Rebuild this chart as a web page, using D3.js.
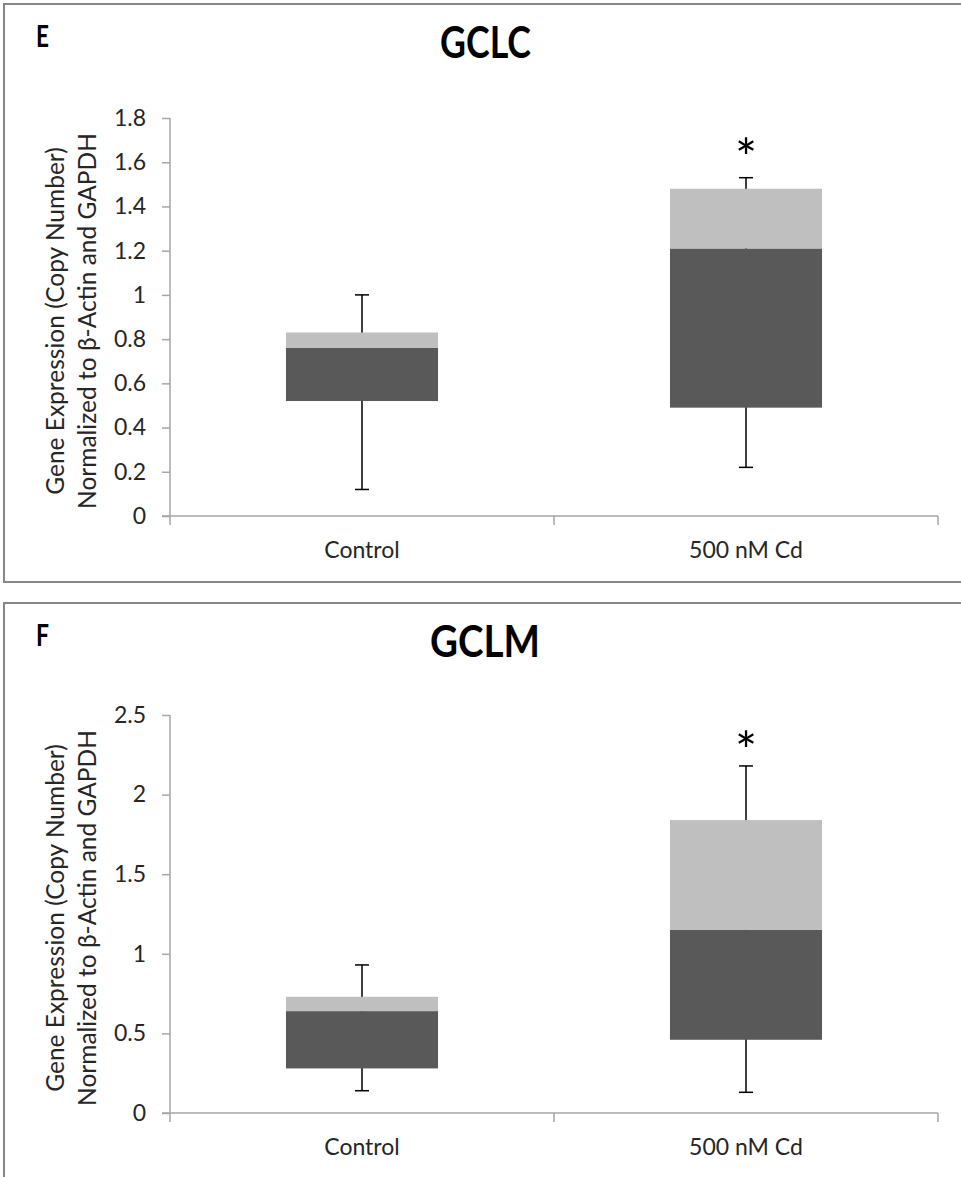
<!DOCTYPE html>
<html>
<head>
<meta charset="utf-8">
<script src="https://cdn.jsdelivr.net/npm/d3@7"></script>
<style>
  body { margin: 0; background: #fff; }
  text { font-family: Lato, "Open Sans", sans-serif; fill: #262626; }
</style>
</head>
<body>
<svg id="chart" width="961" height="1177"></svg>
<script>
// categories
const groups = ['Control', '500 nM Cd'];

// GCLC (panel E)
const gclcMin    = [0.12, 0.22];
const gclcQ1     = [0.52, 0.49];
const gclcMedian = [0.76, 1.21];
const gclcQ3     = [0.83, 1.48];
const gclcMax    = [1.00, 1.53];
const gclcTicks  = [0, 0.2, 0.4, 0.6, 0.8, 1, 1.2, 1.4, 1.6, 1.8];

// GCLM (panel F)
const gclmMin    = [0.14, 0.13];
const gclmQ1     = [0.28, 0.46];
const gclmMedian = [0.64, 1.15];
const gclmQ3     = [0.73, 1.84];
const gclmMax    = [0.93, 2.18];
const gclmTicks  = [0, 0.5, 1, 1.5, 2, 2.5];

const signif = [false, true];

const svg = d3.select('#chart');

const drawPanel = opts => {
    const g = svg.append('g');

    // frame
    g.append('rect')
        .attr('x', 4).attr('y', opts.top)
        .attr('width', 980).attr('height', opts.height)
        .attr('fill', 'none')
        .attr('stroke', '#878787')
        .attr('stroke-width', 2);

    g.append('text')
        .attr('x', 36).attr('y', opts.top + 43)
        .attr('font-size', 30).attr('font-weight', 700)
        .attr('textLength', 13).attr('lengthAdjust', 'spacingAndGlyphs')
        .style('fill', '#000')
        .text(opts.letter);

    g.append('text')
        .attr('x', opts.titleX).attr('y', opts.top + 54)
        .attr('font-size', 44).attr('font-weight', 700)
        .attr('textLength', opts.titleW).attr('lengthAdjust', 'spacingAndGlyphs')
        .style('fill', '#000')
        .text(opts.title);

    const y = d3.scaleLinear()
            .domain([0, d3.max(opts.ticks)])
            .range([opts.y0, opts.y1]);

    const x = d3.scaleBand()
            .domain(groups)
            .range([170, 938]);

    // y axis
    const yAxis = g.append('g')
            .attr('transform', 'translate(170,0)')
            .call(d3.axisLeft(y)
                    .tickValues(opts.ticks)
                    .tickFormat(d3.format('~g'))
                    .tickSize(8)
                    .tickPadding(16));
    yAxis.select('.domain').remove();
    yAxis.selectAll('.tick line').attr('stroke', '#a6a6a6').attr('stroke-width', 1.5);
    yAxis.selectAll('.tick text')
        .attr('font-size', 23)
        .attr('font-family', 'Lato, sans-serif')
        .style('fill', '#262626');
    g.append('line')
        .attr('x1', 170).attr('x2', 170)
        .attr('y1', opts.y1).attr('y2', opts.y0 + 9)
        .attr('stroke', '#a6a6a6').attr('stroke-width', 1.5);

    // x axis
    g.append('line')
        .attr('x1', 162).attr('x2', 938)
        .attr('y1', opts.y0).attr('y2', opts.y0)
        .attr('stroke', '#a6a6a6').attr('stroke-width', 1.5);
    const edges = groups.map(d => x(d)).slice(1).concat([x.range()[1]]);
    g.selectAll('.xtick')
        .data(edges)
        .enter().append('line')
        .attr('x1', d => d).attr('x2', d => d)
        .attr('y1', opts.y0).attr('y2', opts.y0 + 9)
        .attr('stroke', '#a6a6a6').attr('stroke-width', 1.5);
    g.selectAll('.xlabel')
        .data(groups)
        .enter().append('text')
        .attr('x', d => x(d) + x.bandwidth() / 2)
        .attr('y', opts.y0 + 42)
        .attr('text-anchor', 'middle')
        .attr('font-size', 23)
        .text(d => d);

    // y axis title
    const mid = (opts.y0 + opts.y1) / 2 + 4;
    const yt = g.append('text')
            .attr('transform', `translate(64,${mid}) rotate(-90)`)
            .attr('text-anchor', 'middle')
            .attr('font-size', 24.5);
    yt.append('tspan').attr('x', 0).attr('dy', 0).text('Gene Expression (Copy Number)');
    yt.append('tspan').attr('x', 0).attr('dy', 32).text('Normalized to β-Actin and GAPDH');

    const boxW = x.bandwidth() * 0.396;
    const cx = d => x(d) + x.bandwidth() / 2;
    const rows = groups.map((d, i) => ({
        name: d, min: opts.min[i], q1: opts.q1[i], med: opts.med[i],
        q3: opts.q3[i], max: opts.max[i], star: signif[i]
    }));

    const box = g.selectAll('.box')
            .data(rows)
            .enter().append('g');

    // whiskers (behind boxes)
    box.append('line')
        .attr('x1', d => cx(d.name)).attr('x2', d => cx(d.name))
        .attr('y1', d => y(d.max)).attr('y2', d => y(d.min))
        .attr('stroke', '#000').attr('stroke-width', 1.5);
    box.append('line')
        .attr('x1', d => cx(d.name) - 7).attr('x2', d => cx(d.name) + 7)
        .attr('y1', d => y(d.max)).attr('y2', d => y(d.max))
        .attr('stroke', '#000').attr('stroke-width', 1.5);
    box.append('line')
        .attr('x1', d => cx(d.name) - 7).attr('x2', d => cx(d.name) + 7)
        .attr('y1', d => y(d.min)).attr('y2', d => y(d.min))
        .attr('stroke', '#000').attr('stroke-width', 1.5);

    // lower part: q1 -> median
    box.append('rect')
        .attr('x', d => cx(d.name) - boxW / 2)
        .attr('width', boxW)
        .attr('y', d => y(d.med))
        .attr('height', d => y(d.q1) - y(d.med))
        .attr('fill', '#595959');
    // upper part: median -> q3
    box.append('rect')
        .attr('x', d => cx(d.name) - boxW / 2)
        .attr('width', boxW)
        .attr('y', d => y(d.q3))
        .attr('height', d => y(d.med) - y(d.q3))
        .attr('fill', '#bfbfbf');

    box.filter(d => d.star).append('text')
        .attr('x', d => cx(d.name))
        .attr('y', d => y(d.max) - opts.starGap)
        .attr('text-anchor', 'middle')
        .attr('font-size', 52)
        .style('fill', '#000')
        .text('*');
};

drawPanel({
    top: 4, height: 578, letter: 'E', title: 'GCLC', titleX: 440, titleW: 91,
    y0: 516, y1: 118, ticks: gclcTicks, starGap: 1,
    min: gclcMin, q1: gclcQ1, med: gclcMedian, q3: gclcQ3, max: gclcMax
});

drawPanel({
    top: 603, height: 600, letter: 'F', title: 'GCLM', titleX: 430, titleW: 110,
    y0: 1113, y1: 715, ticks: gclmTicks, starGap: -4,
    min: gclmMin, q1: gclmQ1, med: gclmMedian, q3: gclmQ3, max: gclmMax
});
</script>
</body>
</html>
